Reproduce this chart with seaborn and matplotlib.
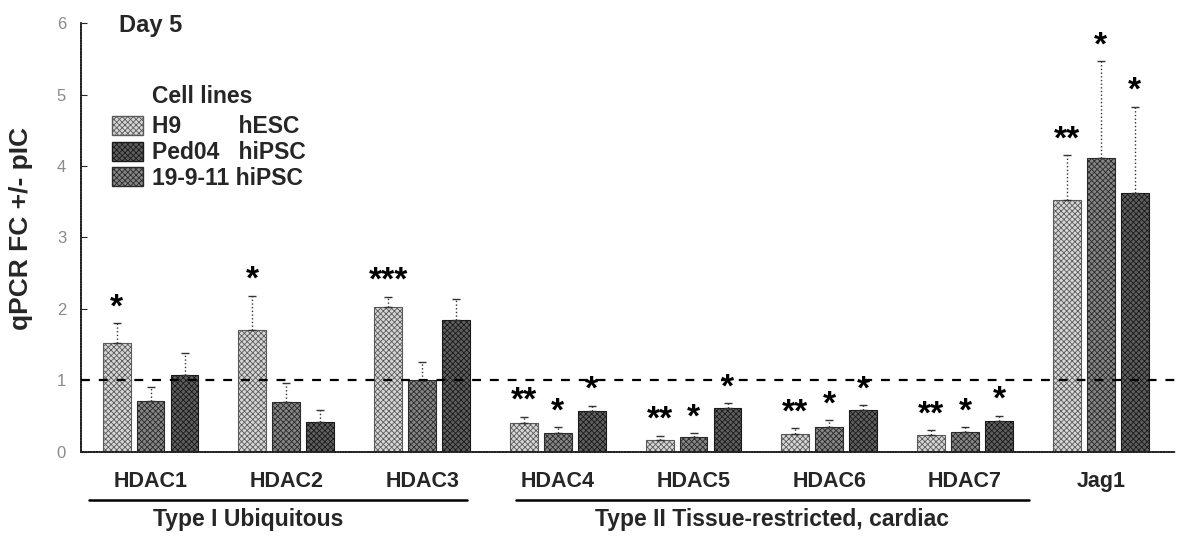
import matplotlib
matplotlib.use("Agg")
import matplotlib.pyplot as plt
import seaborn as sns
import pandas as pd
import numpy as np

genes = ["HDAC1", "HDAC2", "HDAC3", "HDAC4", "HDAC5", "HDAC6", "HDAC7", "Jag1"]
bar_order = ["H9", "19-9-11", "Ped04"]
legend_order = ["H9", "Ped04", "19-9-11"]
legend_labels = {"H9": "H9         hESC", "Ped04": "Ped04   hiPSC", "19-9-11": "19-9-11 hiPSC"}

h9_mean = [1.52, 1.71, 2.02, 0.40, 0.16, 0.25, 0.24, 3.52]
h9_err = [0.28, 0.47, 0.15, 0.09, 0.06, 0.08, 0.06, 0.63]
h9_sig = ["*", "*", "***", "**", "**", "**", "**", "**"]

c19_mean = [0.71, 0.69, 1.00, 0.26, 0.20, 0.34, 0.27, 4.12]
c19_err = [0.19, 0.27, 0.25, 0.08, 0.06, 0.10, 0.07, 1.35]
c19_sig = ["", "", "", "*", "*", "*", "*", "*"]

ped_mean = [1.07, 0.42, 1.84, 0.57, 0.61, 0.58, 0.43, 3.63]
ped_err = [0.31, 0.16, 0.30, 0.07, 0.07, 0.07, 0.07, 1.20]
ped_sig = ["", "", "", "*", "*", "*", "*", "*"]

groups = [("Type I Ubiquitous", "HDAC1", "HDAC3"),
          ("Type II Tissue-restricted, cardiac", "HDAC4", "HDAC7")]
# (left pad, right pad, label shift) in category units
group_pad = [(0.45, 0.33, -0.22), (0.31, 0.47, 0.0)]

means = {"H9": h9_mean, "19-9-11": c19_mean, "Ped04": ped_mean}
errs = {"H9": h9_err, "19-9-11": c19_err, "Ped04": ped_err}
sigs = {"H9": h9_sig, "19-9-11": c19_sig, "Ped04": ped_sig}

rows = []
for cl in bar_order:
    for g, m in zip(genes, means[cl]):
        rows.append({"gene": g, "cell": cl, "value": m})
df = pd.DataFrame(rows)

sns.set_style("white")
plt.rcParams["font.family"] = ["Liberation Sans", "DejaVu Sans"]
plt.rcParams["hatch.linewidth"] = 0.6

face = {"H9": "#d6d6d6", "19-9-11": "#858585", "Ped04": "#5e5e5e"}
edge = {"H9": "#5a5a5a", "19-9-11": "#2a2a2a", "Ped04": "#1a1a1a"}
HATCH = "xxxxxx"

fig = plt.figure(figsize=(11.79, 5.41), dpi=100)
ax = fig.add_axes([0.069, 0.165, 0.928, 0.792])

sns.barplot(data=df, x="gene", y="value", hue="cell", order=genes,
            hue_order=bar_order, palette=face, width=0.75, gap=0.18,
            ax=ax, legend=True, errorbar=None, zorder=2)

for cont, cl in zip(ax.containers, bar_order):
    xs, tops = [], []
    for p in cont.patches:
        p.set_edgecolor(edge[cl])
        p.set_linewidth(0.8)
        p.set_hatch(HATCH)
        xs.append(p.get_x() + p.get_width() / 2)
        tops.append(p.get_height())
    eb = ax.errorbar(xs, tops, yerr=[np.zeros(len(xs)), errs[cl]], fmt="none",
                     ecolor="#333333", elinewidth=1.0, capsize=3, capthick=1.0, zorder=3)
    for lc in eb[2]:
        lc.set_linestyle(":")
    for x, t, e, s in zip(xs, tops, errs[cl], sigs[cl]):
        if s:
            ax.text(x, t + e, s, ha="center", va="bottom", fontsize=24,
                    fontweight="bold", color="black", zorder=4)

ax.axhline(1, color="black", linestyle=(0, (4, 4)), linewidth=1.6, zorder=3)

ax.set_ylim(0, 6)
ax.set_xlim(-0.51, 7.55)
ax.set_yticks(range(7))
ax.tick_params(axis="y", direction="in", length=4, labelsize=12, labelcolor="#8a8a8a",
               left=True, pad=11)
ax.tick_params(axis="x", length=0, labelsize=15.5, pad=14)
for lab in ax.get_xticklabels():
    lab.set_fontweight("bold")
ax.set_xlabel("")
ax.set_ylabel("qPCR FC +/- pIC", fontsize=19, fontweight="bold")
ax.yaxis.set_label_coords(-0.044, 0.522)

for sp in ["top", "right"]:
    ax.spines[sp].set_visible(False)
for sp in ["left", "bottom"]:
    ax.spines[sp].set_color("#222222")
    ax.spines[sp].set_linewidth(1.3)
    ax.spines[sp].set_linestyle((0, (1, 0.5)))

trans = ax.get_xaxis_transform()
for (name, g0, g1), (pl, pr, sh) in zip(groups, group_pad):
    i0, i1 = genes.index(g0), genes.index(g1)
    x0, x1 = i0 - pl, i1 + pr
    ax.plot([x0, x1], [-0.112, -0.112], transform=trans, color="black",
            linewidth=1.8, clip_on=False)
    ax.text((x0 + x1) / 2 + sh, -0.158, name, transform=trans, ha="center", va="center",
            fontsize=16.5, fontweight="bold")

ax.text(0.034, 0.995, "Day 5", transform=ax.transAxes, ha="left", va="center",
        fontsize=17, fontweight="bold")

handles, labels = ax.get_legend_handles_labels()
hmap = dict(zip(labels, handles))
hs = [hmap[c] for c in legend_order]
for h, c in zip(hs, legend_order):
    h.set_edgecolor(edge[c])
    h.set_hatch(HATCH)
leg = ax.legend(hs, [legend_labels[c] for c in legend_order], loc="upper left",
                bbox_to_anchor=(0.028, 0.785), frameon=False, fontsize=16.5,
                handlelength=1.35, handleheight=0.9, handletextpad=0.4,
                labelspacing=0.12, borderaxespad=0, borderpad=0)
for t in leg.get_texts():
    t.set_fontweight("bold")
ax.text(0.065, 0.83, "Cell lines", transform=ax.transAxes, ha="left", va="center",
        fontsize=16.5, fontweight="bold")

fig.savefig("out.png", dpi=100)
